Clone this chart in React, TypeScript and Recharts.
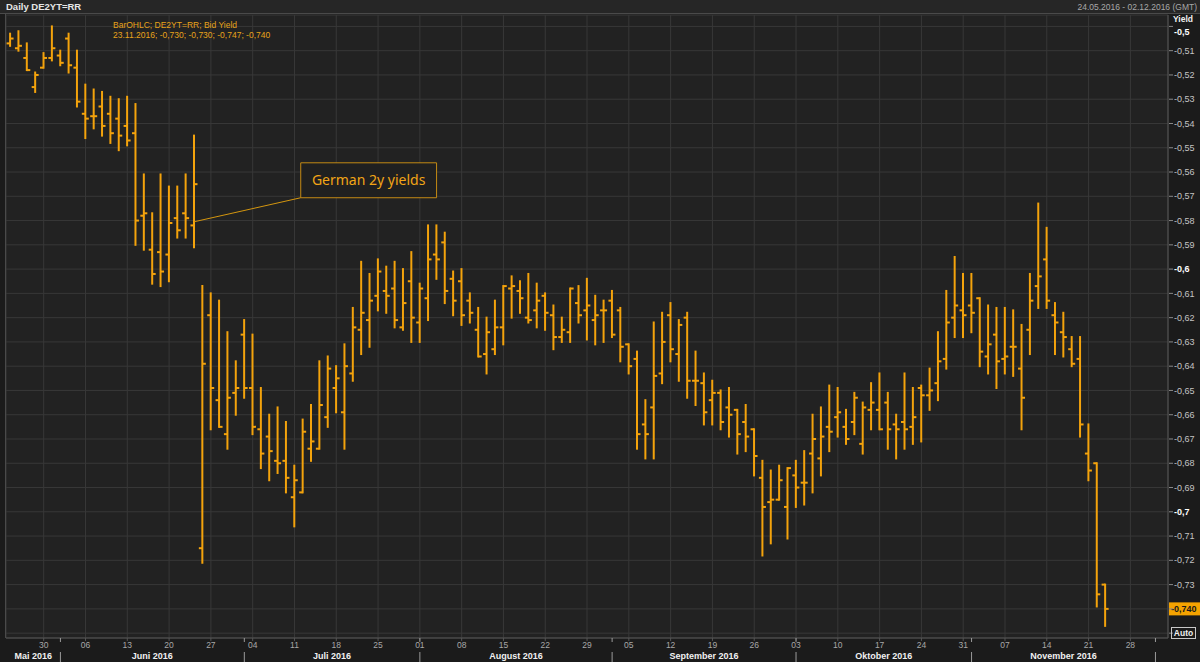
import React from "react";
import {
  ComposedChart,
  Bar,
  XAxis,
  YAxis,
  CartesianGrid,
  ReferenceLine,
  ReferenceArea,
} from "recharts";

// daily OHLC bid yield, DE2YT=RR, 24.05.2016 - 23.11.2016 (one value per weekday)
const openYield = [
  -0.507, -0.509, -0.513, -0.525, -0.517, -0.513, -0.512, -0.505, -0.517, -0.536,
  -0.537, -0.533, -0.536, -0.538, -0.541, -0.544, -0.578, -0.592, -0.593, -0.594,
  -0.579, -0.577, -0.582, -0.715, -0.619, -0.654, -0.668, -0.651, -0.627, -0.649,
  -0.666, -0.669, -0.679, -0.679, -0.694, -0.692, -0.674, -0.674, -0.661, -0.649,
  -0.659, -0.643, -0.625, -0.621, -0.611, -0.609, -0.608, -0.624, -0.605, -0.622,
  -0.612, -0.594, -0.589, -0.604, -0.605, -0.613, -0.625, -0.635, -0.633, -0.624,
  -0.608, -0.609, -0.62, -0.617, -0.611, -0.619, -0.628, -0.626, -0.614, -0.617,
  -0.621, -0.617, -0.613, -0.617, -0.631, -0.637, -0.664, -0.657, -0.643, -0.619,
  -0.635, -0.62, -0.646, -0.647, -0.654, -0.651, -0.657, -0.658, -0.663, -0.666,
  -0.686, -0.696, -0.695, -0.698, -0.685, -0.688, -0.676, -0.678, -0.665, -0.661,
  -0.665, -0.663, -0.672, -0.658, -0.658, -0.655, -0.664, -0.663, -0.665, -0.649,
  -0.652, -0.647, -0.637, -0.62, -0.617, -0.615, -0.612, -0.636, -0.627, -0.637,
  -0.632, -0.641, -0.625, -0.607, -0.596, -0.619, -0.626, -0.633, -0.637, -0.676,
  -0.68, -0.73,
];
const highYield = [
  -0.503, -0.502, -0.507, -0.519, -0.511, -0.5, -0.51, -0.503, -0.51, -0.524,
  -0.526, -0.527, -0.529, -0.53, -0.529, -0.532, -0.561, -0.577, -0.561, -0.566,
  -0.566, -0.561, -0.545, -0.607, -0.61, -0.613, -0.626, -0.638, -0.621, -0.627,
  -0.649, -0.66, -0.657, -0.663, -0.681, -0.662, -0.656, -0.638, -0.636, -0.64,
  -0.631, -0.616, -0.597, -0.602, -0.596, -0.599, -0.597, -0.6, -0.593, -0.606,
  -0.582, -0.582, -0.585, -0.601, -0.6, -0.61, -0.616, -0.62, -0.613, -0.607,
  -0.603, -0.605, -0.602, -0.606, -0.61, -0.615, -0.62, -0.608, -0.607, -0.604,
  -0.611, -0.613, -0.609, -0.616, -0.631, -0.634, -0.654, -0.622, -0.618, -0.614,
  -0.621, -0.618, -0.634, -0.643, -0.646, -0.65, -0.649, -0.658, -0.656, -0.666,
  -0.679, -0.683, -0.681, -0.682, -0.679, -0.675, -0.66, -0.657, -0.648, -0.649,
  -0.658, -0.651, -0.655, -0.647, -0.643, -0.651, -0.66, -0.643, -0.649, -0.648,
  -0.641, -0.626, -0.609, -0.595, -0.602, -0.602, -0.612, -0.615, -0.616, -0.616,
  -0.617, -0.623, -0.602, -0.573, -0.583, -0.614, -0.618, -0.628, -0.628, -0.664,
  -0.68, -0.73,
];
const lowYield = [
  -0.508, -0.51, -0.518, -0.527, -0.517, -0.514, -0.516, -0.519, -0.533, -0.546,
  -0.542, -0.545, -0.548, -0.551, -0.549, -0.59, -0.592, -0.606, -0.607, -0.605,
  -0.587, -0.587, -0.591, -0.721, -0.666, -0.665, -0.674, -0.66, -0.653, -0.668,
  -0.682, -0.687, -0.684, -0.692, -0.706, -0.692, -0.679, -0.674, -0.665, -0.659,
  -0.674, -0.646, -0.635, -0.632, -0.617, -0.618, -0.624, -0.625, -0.63, -0.63,
  -0.621, -0.604, -0.614, -0.619, -0.623, -0.622, -0.636, -0.643, -0.635, -0.631,
  -0.62, -0.618, -0.622, -0.624, -0.625, -0.633, -0.63, -0.63, -0.622, -0.629,
  -0.631, -0.63, -0.628, -0.638, -0.643, -0.674, -0.678, -0.678, -0.647, -0.638,
  -0.646, -0.653, -0.656, -0.664, -0.664, -0.666, -0.669, -0.676, -0.675, -0.685,
  -0.718, -0.713, -0.695, -0.711, -0.698, -0.697, -0.692, -0.685, -0.675, -0.669,
  -0.672, -0.668, -0.676, -0.666, -0.666, -0.674, -0.678, -0.674, -0.672, -0.671,
  -0.658, -0.654, -0.641, -0.628, -0.628, -0.626, -0.64, -0.643, -0.649, -0.643,
  -0.644, -0.666, -0.635, -0.616, -0.616, -0.635, -0.636, -0.64, -0.669, -0.687,
  -0.739, -0.747,
];
const closeYield = [
  -0.505, -0.508, -0.518, -0.52, -0.513, -0.509, -0.515, -0.516, -0.531, -0.538,
  -0.537, -0.541, -0.544, -0.545, -0.547, -0.58, -0.577, -0.602, -0.601, -0.581,
  -0.584, -0.579, -0.565, -0.639, -0.649, -0.665, -0.653, -0.649, -0.649, -0.665,
  -0.676, -0.675, -0.68, -0.686, -0.687, -0.667, -0.671, -0.656, -0.641, -0.645,
  -0.64, -0.624, -0.618, -0.613, -0.601, -0.611, -0.621, -0.614, -0.62, -0.608,
  -0.596, -0.596, -0.609, -0.613, -0.619, -0.618, -0.636, -0.626, -0.624, -0.607,
  -0.607, -0.612, -0.621, -0.613, -0.618, -0.628, -0.625, -0.608, -0.619, -0.615,
  -0.619, -0.617, -0.627, -0.632, -0.64, -0.668, -0.668, -0.644, -0.63, -0.633,
  -0.623, -0.646, -0.646, -0.659, -0.651, -0.663, -0.66, -0.668, -0.669, -0.677,
  -0.698, -0.695, -0.687, -0.682, -0.69, -0.688, -0.67, -0.669, -0.667, -0.659,
  -0.67, -0.653, -0.657, -0.655, -0.666, -0.666, -0.666, -0.666, -0.661, -0.652,
  -0.65, -0.638, -0.622, -0.615, -0.619, -0.618, -0.634, -0.631, -0.638, -0.636,
  -0.632, -0.653, -0.613, -0.603, -0.613, -0.622, -0.628, -0.639, -0.664, -0.683,
  -0.734, -0.74,
];

// x axis: trading-day index, Mondays carry the day labels
const dayLabels = [
  "30", "06", "13", "20", "27", "04", "11", "18", "25", "01", "08", "15", "22", "29",
  "05", "12", "19", "26", "03", "10", "17", "24", "31", "07", "14", "21", "28",
];
const mondayIndex = [
  4, 9, 14, 19, 24, 29, 34, 39, 44, 49, 54, 59, 64, 69,
  74, 79, 84, 89, 94, 99, 104, 109, 114, 119, 124, 129, 134,
];
const monthNames = [
  "Mai 2016", "Juni 2016", "Juli 2016", "August 2016",
  "September 2016", "Oktober 2016", "November 2016",
];
// first trading day of Jun, Jul, Aug, Sep, Oct, Nov, Dec
const monthStarts = [6, 28, 49, 72, 94, 115, 137];
const yTicks = [
  -0.5, -0.51, -0.52, -0.53, -0.54, -0.55, -0.56, -0.57, -0.58, -0.59, -0.6, -0.61, -0.62,
  -0.63, -0.64, -0.65, -0.66, -0.67, -0.68, -0.69, -0.7, -0.71, -0.72, -0.73, -0.74, -0.75,
];

const X_MIN = -0.51;
const X_MAX = 138.5;
const Y_MIN = -0.752;
const Y_MAX = -0.4953;

const FONT = '"Liberation Sans", Arial, sans-serif';
const ORANGE = "#f4a30c";

const monthBounds = [X_MIN, ...monthStarts];
const monthMids = monthNames.map((_, k) => (monthBounds[k] + monthBounds[k + 1]) / 2);
const monthTicks = [...monthStarts, ...monthMids];

const rows = openYield.map((o, i) => ({
  i,
  open: o,
  high: highYield[i],
  low: lowYield[i],
  close: closeYield[i],
  range: [lowYield[i], highYield[i]],
}));

const lastClose = closeYield[closeYield.length - 1];
const fmt = (v: number) => String(Math.round(v * 100) / 100).replace(".", ",");

const OhlcBar = (props: any) => {
  const { x, y, width, height, payload } = props;
  if (!payload) return null;
  const top = Math.min(y, y + height);
  const bottom = Math.max(y, y + height);
  const span = payload.high - payload.low;
  const toY = (v: number) =>
    span === 0 ? top : top + ((payload.high - v) / span) * (bottom - top);
  const cx = x + width / 2;
  const yo = toY(payload.open);
  const yc = toY(payload.close);
  return (
    <g stroke={ORANGE} strokeWidth={2}>
      <line x1={cx} x2={cx} y1={top - 1} y2={bottom + 1} />
      <line x1={cx - 3.5} x2={cx} y1={yo} y2={yo} />
      <line x1={cx} x2={cx + 3.5} y1={yc} y2={yc} />
    </g>
  );
};

const YieldTick = (props: any) => {
  const { x, y, payload } = props;
  const v = payload.value;
  const tenth = Math.abs(v * 10 - Math.round(v * 10)) < 1e-6;
  const hideText = v < -0.735;
  // the top label sits a little lower, below the "Yield" caption
  const shift = v > -0.505 ? 5 : 0;
  return (
    <g>
      <line x1={x - 5} x2={x - 1} y1={y} y2={y} stroke="#8a8a8a" />
      {!hideText && (
        <text
          x={x}
          y={y + shift}
          dy="0.35em"
          fontSize={9}
          fontFamily={FONT}
          fontWeight={tenth ? "bold" : "normal"}
          fill={tenth ? "#ffffff" : "#c4c4c4"}
        >
          {fmt(v)}
        </text>
      )}
    </g>
  );
};

const MonthTick = (props: any) => {
  const { x, y, payload } = props;
  const v = payload.value;
  if (monthStarts.indexOf(v) >= 0) {
    return (
      <g stroke="#9a9a9a">
        <line x1={x} x2={x} y1={y - 12} y2={y - 8} />
        <line x1={x} x2={x} y1={y + 2} y2={y + 12} />
      </g>
    );
  }
  const m = monthMids.indexOf(v);
  return (
    <text
      x={x}
      y={y + 9}
      textAnchor="middle"
      fontSize={9}
      fontWeight="bold"
      fontFamily={FONT}
      fill="#f0f0f0"
    >
      {monthNames[m]}
    </text>
  );
};

const LastValueTag = (props: any) => {
  const { viewBox } = props;
  if (!viewBox) return null;
  const x = viewBox.x + viewBox.width;
  const y = viewBox.y;
  return (
    <g>
      <rect x={x + 1} y={y - 6.5} width={31} height={13} fill="#f5a300" />
      <text
        x={x + 3}
        y={y}
        dy="0.35em"
        fontSize={9}
        fontWeight="bold"
        fontFamily={FONT}
        fill="#1a1a1a"
      >
        {lastClose.toFixed(3).replace(".", ",")}
      </text>
    </g>
  );
};

export default function App() {
  return (
    <div
      style={{
        position: "relative",
        width: 1200,
        height: 662,
        background: "#1b1b1b",
        fontFamily: FONT,
        overflow: "hidden",
      }}
    >
      <style>{"body{margin:0;background:#1b1b1b}"}</style>
      <ComposedChart
        width={1200}
        height={662}
        data={rows}
        margin={{ top: 15, right: 0, bottom: 0, left: 6 }}
      >
        <CartesianGrid stroke="#383838" fill="#222222" fillOpacity={1} />
        <XAxis
          xAxisId={0}
          dataKey="i"
          type="number"
          domain={[X_MIN, X_MAX]}
          allowDataOverflow
          ticks={mondayIndex}
          interval={0}
          tickFormatter={(v: number) => dayLabels[mondayIndex.indexOf(v)]}
          height={12}
          tickSize={3}
          tickMargin={1}
          tick={{ fill: "#a8a8a8", fontSize: 8.5, fontFamily: FONT }}
          stroke="#555555"
        />
        <XAxis
          xAxisId="m"
          dataKey="i"
          type="number"
          domain={[X_MIN, X_MAX]}
          allowDataOverflow
          ticks={monthTicks}
          interval={0}
          height={12}
          axisLine={false}
          tickLine={false}
          tickSize={0}
          tickMargin={0}
          tick={<MonthTick />}
        />
        <YAxis
          orientation="right"
          type="number"
          domain={[Y_MIN, Y_MAX]}
          allowDataOverflow
          ticks={yTicks}
          interval={0}
          width={32}
          tickSize={4}
          tickMargin={2}
          tickLine={false}
          tick={<YieldTick />}
          stroke="#555555"
        />
        <ReferenceArea
          x1={34.75}
          x2={51}
          y1={-0.5706}
          y2={-0.5562}
          fill="#202020"
          fillOpacity={1}
          stroke="#c48a14"
          label={{
            value: "German 2y yields",
            position: "center",
            fill: "#f2a516",
            fontSize: 14,
            fontFamily: '"Noto Sans", sans-serif',
          }}
        />
        <ReferenceLine
          segment={[
            { x: 22, y: -0.5805 },
            { x: 34.75, y: -0.5706 },
          ]}
          stroke="#d4960f"
          strokeWidth={1}
        />
        <Bar
          dataKey="range"
          barSize={6}
          shape={(p: any) => <OhlcBar {...p} />}
          isAnimationActive={false}
        />
        <ReferenceLine
          y={lastClose}
          stroke="none"
          label={(p: any) => <LastValueTag {...p} />}
        />
      </ComposedChart>

      {/* header strip */}
      <div
        style={{
          position: "absolute",
          left: 0,
          top: 0,
          width: 1200,
          height: 14,
          background: "#262626",
          borderBottom: "1px solid #4a4a4a",
          boxSizing: "border-box",
        }}
      >
        <span
          style={{
            position: "absolute",
            left: 6,
            top: 1,
            fontSize: 9.5,
            fontWeight: "bold",
            color: "#e6e6e6",
          }}
        >
          Daily DE2YT=RR
        </span>
        <span
          style={{
            position: "absolute",
            right: 3,
            top: 2,
            fontSize: 8.5,
            color: "#a8a8a8",
          }}
        >
          24.05.2016 - 02.12.2016 (GMT)
        </span>
      </div>

      {/* legend */}
      <div
        style={{
          position: "absolute",
          left: 113,
          top: 20,
          fontSize: 8.5,
          lineHeight: "10px",
          color: "#e8a31a",
        }}
      >
        <div>BarOHLC; DE2YT=RR; Bid Yield</div>
        <div>23.11.2016; -0,730; -0,730; -0,747; -0,740</div>
      </div>

      {/* right axis caption and Auto button */}
      <div
        style={{
          position: "absolute",
          left: 1173,
          top: 14,
          fontSize: 8.5,
          lineHeight: "10px",
          fontWeight: "bold",
          color: "#f0f0f0",
        }}
      >
        Yield
      </div>
      <div
        style={{
          position: "absolute",
          left: 1171,
          top: 627,
          width: 25,
          height: 12,
          border: "1px solid #c8c8c8",
          boxSizing: "border-box",
          fontSize: 8.5,
          fontWeight: "bold",
          lineHeight: "10px",
          textAlign: "center",
          color: "#f0f0f0",
        }}
      >
        Auto
      </div>

      {/* left border of plot */}
      <div
        style={{
          position: "absolute",
          left: 5,
          top: 14,
          width: 1,
          height: 624,
          background: "#4a4a4a",
        }}
      />
    </div>
  );
}
